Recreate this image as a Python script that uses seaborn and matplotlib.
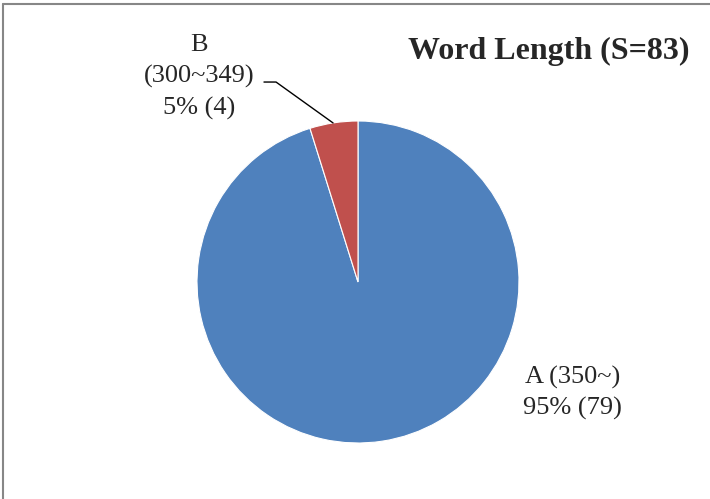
import matplotlib
matplotlib.use("Agg")
import matplotlib.pyplot as plt
from matplotlib.lines import Line2D
import seaborn as sns

# data
groups = ["A", "B"]
ranges = ["(350~)", "(300~349)"]
counts = [79, 4]
colors = ["#4F81BD", "#C0504D"]
title = "Word Length (S=83)"

sns.set_theme(style="white")
plt.rcParams["font.family"] = ["Liberation Serif", "DejaVu Serif"]

fig = plt.figure(figsize=(7.1, 4.99), dpi=100)
W, H = 710, 499
cx, cy, r = 358, 282, 161
ax = fig.add_axes([(cx - r) / W, (H - cy - r) / H, 2 * r / W, 2 * r / H])

wedges, _ = ax.pie(counts, colors=colors, startangle=90, counterclock=False,
                   radius=1, wedgeprops=dict(edgecolor="white", linewidth=0.8))
ax.set_xlim(-1, 1)
ax.set_ylim(-1, 1)
ax.set_aspect("equal")
ax.axis("off")

total = sum(counts)
pct = [round(c / total * 100) for c in counts]

# label A, bottom right of the pie
ax.text(1.33, -0.69, f"{groups[0]} {ranges[0]}\n{pct[0]}% ({counts[0]})",
        ha="center", va="center", fontsize=19, linespacing=1.45, clip_on=False)

# label B, top left, with leader line
ax.text(-0.985, 1.272, f"{groups[1]}\n{ranges[1]}\n{pct[1]}% ({counts[1]})",
        ha="center", va="center", fontsize=19, linespacing=1.5, clip_on=False)
ax.plot([-0.584, -0.509, -0.155], [1.242, 1.242, 0.988], color="black",
        lw=1, clip_on=False)

fig.text(690 / W, 1 - 51 / H, title, ha="right", va="center",
         fontsize=23, fontweight="bold")

# chart frame (only top and left edges visible)
fig.add_artist(Line2D([2.5 / W, 2.5 / W], [0, 1 - 3.5 / H], color="#878787", lw=1.5))
fig.add_artist(Line2D([2.5 / W, 1], [1 - 3.5 / H, 1 - 3.5 / H], color="#878787", lw=1.5))

fig.savefig("out.png", dpi=100)
